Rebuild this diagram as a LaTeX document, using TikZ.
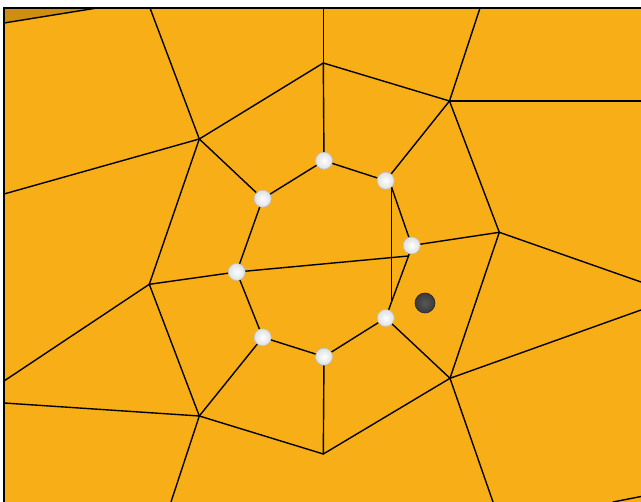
\documentclass[tikz,border=0pt]{standalone}
\definecolor{orangebg}{RGB}{247,174,23}
\definecolor{darkwedge}{RGB}{206,142,18}
\definecolor{darkdot}{RGB}{58,58,58}
\tikzset{
  edge/.style={draw=black, line width=1.4pt, line cap=round},
  border/.style={draw=black, line width=1.8pt},
  site/.style={circle, minimum size=17pt, inner sep=0pt, draw=gray!50, line width=0.6pt,
               inner color=white, outer color=gray!25},
  probe/.style={circle, minimum size=20pt, inner sep=0pt, draw=black!85, line width=0.6pt,
               inner color=darkdot!85, outer color=darkdot}
}
\begin{document}
\begin{tikzpicture}[x=1pt,y=-1pt]
\useasboundingbox (0,0) rectangle (641,502);
\fill[white] (0,0) rectangle (641,502);
\fill[orangebg] (4,8) rectangle (641,502);
\fill[darkwedge] (4,8) -- (97,8) -- (4,23) -- cycle;
% frame corners / outer coordinates
\coordinate (TL) at (4,8);
\coordinate (TR) at (641,8);
\coordinate (BL) at (4,502);
\coordinate (W1) at (97,8);
\coordinate (W2) at (4,23);
\coordinate (t1) at (150,8);
\coordinate (t2) at (323.3,8);
\coordinate (t3) at (480,8);
\coordinate (r1) at (641,101);
\coordinate (r2) at (641,282);
\coordinate (r3) at (641,310);
\coordinate (l1) at (4,194);
\coordinate (l2) at (4,381);
\coordinate (l3) at (4,403);
\coordinate (b1) at (171,502);
\coordinate (b2) at (493,502);
\coordinate (c1) at (613,502);
\coordinate (c2) at (641,496.5);
% outer vertices
\coordinate (A) at (199.3,139);
\coordinate (B) at (323.3,63);
\coordinate (C) at (449.5,101);
\coordinate (D) at (499.3,232.3);
\coordinate (E) at (149.3,284.3);
\coordinate (F) at (199.3,416);
\coordinate (G) at (323.3,454);
\coordinate (H) at (450,378.3);
% octagon vertices
\coordinate (ot) at (324,160.7);
\coordinate (our) at (385.7,180.7);
\coordinate (or) at (411.7,245.5);
\coordinate (olr) at (385.7,318);
\coordinate (ob) at (324,356.7);
\coordinate (oll) at (262.7,337.3);
\coordinate (ol) at (236.7,272);
\coordinate (oul) at (262.7,198.7);
% inner vertices
\coordinate (V0) at (391.5,187);
\coordinate (V1) at (408.5,256);
\coordinate (V2) at (391.5,302);

% frame
\draw[border] (BL) -- (TL) -- (TR);
\draw[edge] (W2) -- (W1);

% outer edges
\draw[edge] (t1) -- (A);
\draw[edge] (A) -- (l1);
\draw[edge] (A) -- (B);
\draw[edge] (A) -- (oul);
\draw[edge] (A) -- (E);
\draw[edge] (B) -- (t2);
\draw[edge] (B) -- (ot);
\draw[edge] (B) -- (C);
\draw[edge] (C) -- (t3);
\draw[edge] (C) -- (r1);
\draw[edge] (C) -- (our);
\draw[edge] (C) -- (D);
\draw[edge] (D) -- (r2);
\draw[edge] (D) -- (or);
\draw[edge] (D) -- (H);
\draw[edge] (E) -- (l2);
\draw[edge] (E) -- (ol);
\draw[edge] (E) -- (F);
\draw[edge] (F) -- (l3);
\draw[edge] (F) -- (oll);
\draw[edge] (F) -- (G);
\draw[edge] (F) -- (b1);
\draw[edge] (G) -- (ob);
\draw[edge] (G) -- (H);
\draw[edge] (H) -- (olr);
\draw[edge] (H) -- (r3);
\draw[edge] (H) -- (b2);
\draw[edge] (c1) -- (c2);

% octagon edges
\draw[edge] (ot) -- (our) -- (V0) -- (or) -- (V1) -- (V2) -- (olr) -- (ob) -- (oll) -- (ol) -- (oul) -- (ot);
\draw[edge] (ol) -- (V1);
\draw[edge] (V0) -- (V2);

% sites
\node[site] (s1) at (ot) {};
\node[site] (s2) at (our) {};
\node[site] (s3) at (or) {};
\node[site] (s4) at (olr) {};
\node[site] (s5) at (ob) {};
\node[site] (s6) at (oll) {};
\node[site] (s7) at (ol) {};
\node[site] (s8) at (oul) {};
\node[probe] (p) at (425,303) {};
\end{tikzpicture}
\end{document}
